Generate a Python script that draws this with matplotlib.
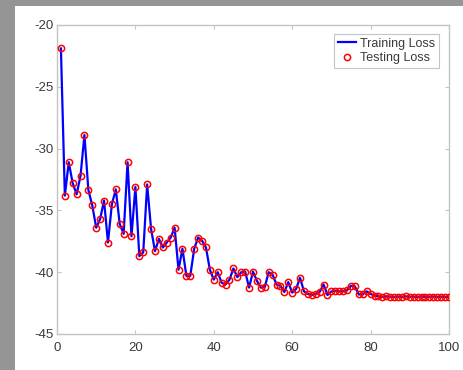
import matplotlib
matplotlib.use("Agg")
import matplotlib.pyplot as plt

plt.rcParams['font.family'] = ['Liberation Sans', 'DejaVu Sans']

epochs = list(range(1, 101))
training_loss = [
    -21.9, -33.8, -31.1, -32.8, -33.7, -32.2, -28.9, -33.35, -34.6, -36.4,
    -35.7, -34.2, -37.6, -34.5, -33.3, -36.1, -36.9, -31.1, -37.1, -33.1,
    -38.7, -38.4, -32.9, -36.5, -38.3, -37.3, -38.0, -37.6, -37.2, -36.4,
    -39.8, -38.1, -40.3, -40.3, -38.1, -37.2, -37.45, -38.0, -39.8, -40.6,
    -40.0, -40.85, -41.0, -40.6, -39.7, -40.4, -40.0, -39.95, -41.25, -39.95,
    -40.7, -41.25, -41.2, -40.0, -40.2, -41.0, -41.1, -41.6, -40.8, -41.65,
    -41.35, -40.45, -41.55, -41.75, -41.85, -41.75, -41.6, -41.0, -41.85, -41.55,
    -41.5, -41.55, -41.55, -41.45, -41.1, -41.15, -41.8, -41.8, -41.55, -41.75,
    -41.9, -41.95, -42.0, -41.95, -41.98, -42.0, -41.97, -42.0, -41.95, -42.0,
    -41.98, -42.0, -41.97, -42.0, -41.98, -41.97, -42.0, -41.98, -42.0, -41.98,
]
testing_loss = [
    -21.9, -33.8, -31.1, -32.8, -33.7, -32.2, -28.9, -33.35, -34.6, -36.4,
    -35.7, -34.2, -37.6, -34.5, -33.3, -36.1, -36.9, -31.1, -37.1, -33.1,
    -38.7, -38.4, -32.9, -36.5, -38.3, -37.3, -38.0, -37.6, -37.2, -36.4,
    -39.8, -38.1, -40.3, -40.3, -38.1, -37.2, -37.45, -38.0, -39.8, -40.6,
    -40.0, -40.85, -41.0, -40.6, -39.7, -40.4, -40.0, -39.95, -41.25, -39.95,
    -40.7, -41.25, -41.2, -40.0, -40.2, -41.0, -41.1, -41.6, -40.8, -41.65,
    -41.35, -40.45, -41.55, -41.75, -41.85, -41.75, -41.6, -41.0, -41.85, -41.55,
    -41.5, -41.55, -41.55, -41.45, -41.1, -41.15, -41.8, -41.8, -41.55, -41.75,
    -41.9, -41.95, -42.0, -41.95, -41.98, -42.0, -41.97, -42.0, -41.95, -42.0,
    -41.98, -42.0, -41.97, -42.0, -41.98, -41.97, -42.0, -41.98, -42.0, -41.98,
]
x_ticks = [0, 20, 40, 60, 80, 100]
y_ticks = [-45, -40, -35, -30, -25, -20]

W, H = 463, 370
fig = plt.figure(figsize=(W / 100, H / 100), dpi=100, facecolor='#959595')

bg = fig.add_axes([15 / W, 0, 1 - 15 / W, (H - 6) / H], zorder=-5)
bg.set_facecolor('white')
bg.set_xticks([])
bg.set_yticks([])
for s in bg.spines.values():
    s.set_visible(False)

ax = fig.add_axes([57 / W, (H - 334) / H, (449 - 57) / W, (334 - 25) / H], zorder=1)
ax.set_facecolor('white')

ax.plot(epochs, training_loss, color='#0000ff', lw=1.6, label='Training Loss', zorder=2)
ax.plot(epochs, testing_loss, linestyle='none', marker='o', markersize=4.5,
        markerfacecolor='none', markeredgecolor='#ff0000', markeredgewidth=1.1,
        label='Testing Loss', zorder=3)

ax.set_xlim(0, 100)
ax.set_ylim(-45, -20)
ax.set_xticks(x_ticks)
ax.set_yticks(y_ticks)
ax.set_xticklabels([str(t) for t in x_ticks])
ax.set_yticklabels([str(t) for t in y_ticks])

for s in ax.spines.values():
    s.set_color('#c4c4c4')
    s.set_linewidth(1.0)
ax.tick_params(direction='in', length=3, width=0.8, color='#c4c4c4',
               top=True, right=True, labelsize=9.5, labelcolor='#3a3a3a')
ax.tick_params(axis='x', pad=6)
ax.tick_params(axis='y', pad=2.5)

leg = ax.legend(loc='upper right', bbox_to_anchor=((439 - 57) / 392, (334 - 34) / 309),
                borderaxespad=0, fontsize=9, frameon=True, fancybox=False,
                framealpha=1, edgecolor='#c4c4c4', handlelength=1.5,
                handletextpad=0.3, borderpad=0.3, labelspacing=0.2)
leg.get_frame().set_linewidth(0.8)
for t in leg.get_texts():
    t.set_color('#3a3a3a')

fig.savefig('out.png', dpi=100, facecolor=fig.get_facecolor())
